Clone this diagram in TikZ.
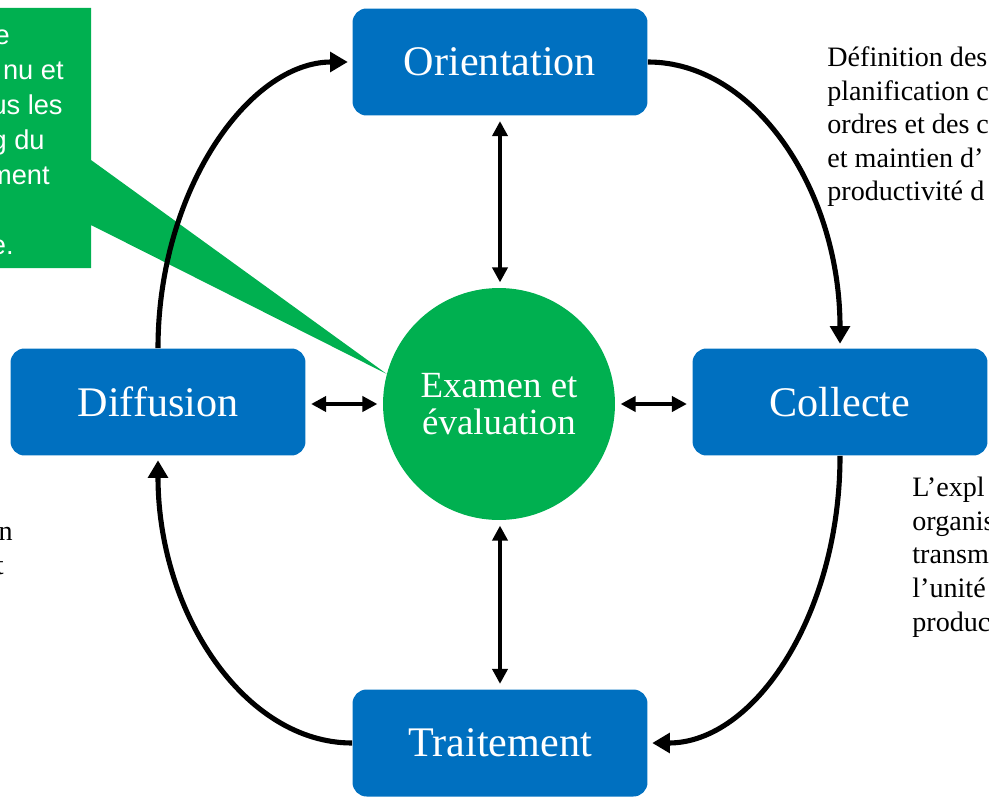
\documentclass[tikz,border=0pt]{standalone}
\usepackage{fontspec}
\setmainfont{Liberation Serif}
\setsansfont{Liberation Sans}
\usetikzlibrary{
	arrows.meta,
	calc,
	positioning
}
\definecolor{StageBlue}{RGB}{0,112,192}
\definecolor{ReviewGreen}{RGB}{0,176,80}

\begin{document}
\begin{tikzpicture}[x=0.02cm, y=-0.02cm,
		stage/.style={fill=StageBlue, rounded corners=8pt, minimum width=5.9cm, minimum height=2.14cm, text=white, font=\fontsize{24}{28}\selectfont},
		review/.style={circle, fill=ReviewGreen, minimum size=4.64cm, inner sep=0pt, text=white, align=center, font=\fontsize{21}{21}\selectfont},
		cyclearrow/.style={line width=2.9pt, -{Triangle[length=10pt, width=11pt]}, shorten >=2.5pt},
		link/.style={line width=2.2pt, {Triangle[length=8.5pt, width=8.5pt]}-{Triangle[length=8.5pt, width=8.5pt]}, shorten <=3pt, shorten >=3pt},
		note/.style={align=left, font=\fontsize{16}{19.1}\selectfont, inner sep=0pt},
		calltext/.style={text=white, font=\sffamily\fontsize{15.5}{20}\selectfont, inner sep=0pt}
	]
				\useasboundingbox (0,0) rectangle (989,800);
				\clip (0,0) rectangle (989,800);
				\node[stage] (orient) at (500,62) {Orientation};
				\node[stage] (diff) at (158,402) {Diffusion};
				\node[stage] (coll) at (840,402) {Collecte};
				\node[stage] (trait) at (500,743) {Traitement};
				\node[review] (exam) at (499,404) {Examen et\\évaluation};
				% speech bubble pointing at the centre
				\fill[ReviewGreen] (-20,8) -- (91,8) -- (91,160) -- (exam.165) -- (91,225) -- (91,268) -- (-20,268) -- cycle;
				\node[calltext, anchor=base east] (call1) at (10,45) {e};
				\node[calltext, anchor=base east] (call2) at (64,80) {nu et};
				\node[calltext, anchor=base east] (call3) at (63,115) {us les};
				\node[calltext, anchor=base east] (call4) at (45,150) {g du};
				\node[calltext, anchor=base east] (call5) at (50,185) {ment};
				\node[calltext, anchor=base east] (call6) at (14,255) {e.};
				% the outer cycle
				\draw[cyclearrow] (diff.north) .. controls +(0,-158) and +(-103,0) .. (orient.west);
				\draw[cyclearrow] (orient.east) .. controls +(107,0) and +(0,-158) .. (coll.north);
				\draw[cyclearrow] (coll.south) .. controls +(0,158) and +(107,0) .. (trait.east);
				\draw[cyclearrow] (trait.west) .. controls +(-107,0) and +(0,158) .. (diff.south);
				% links to the centre
				\draw[link] (orient.south) -- (orient.south |- exam.north);
				\draw[link] (trait.north |- exam.south) -- (trait.north);
				\draw[link] (exam.west -| diff.east) -- (exam.west);
				\draw[link] (exam.east) -- (exam.east -| coll.west);
				% side notes, placed by the baseline of their last line
				\node[note, anchor=base west] (orienttext) at (827,201) {Définition des\\planification c\\ordres et des c\\et maintien d’\\productivité d};
				\node[note, anchor=base west] (colltext) at (912,631) {L’expl\\organis\\transm\\l’unité\\produc};
				\node[note, anchor=base east] (diff1) at (13,540) {n};
				\node[note, anchor=base east] (diff2) at (4,574) {t};
			\end{tikzpicture}
\end{document}
